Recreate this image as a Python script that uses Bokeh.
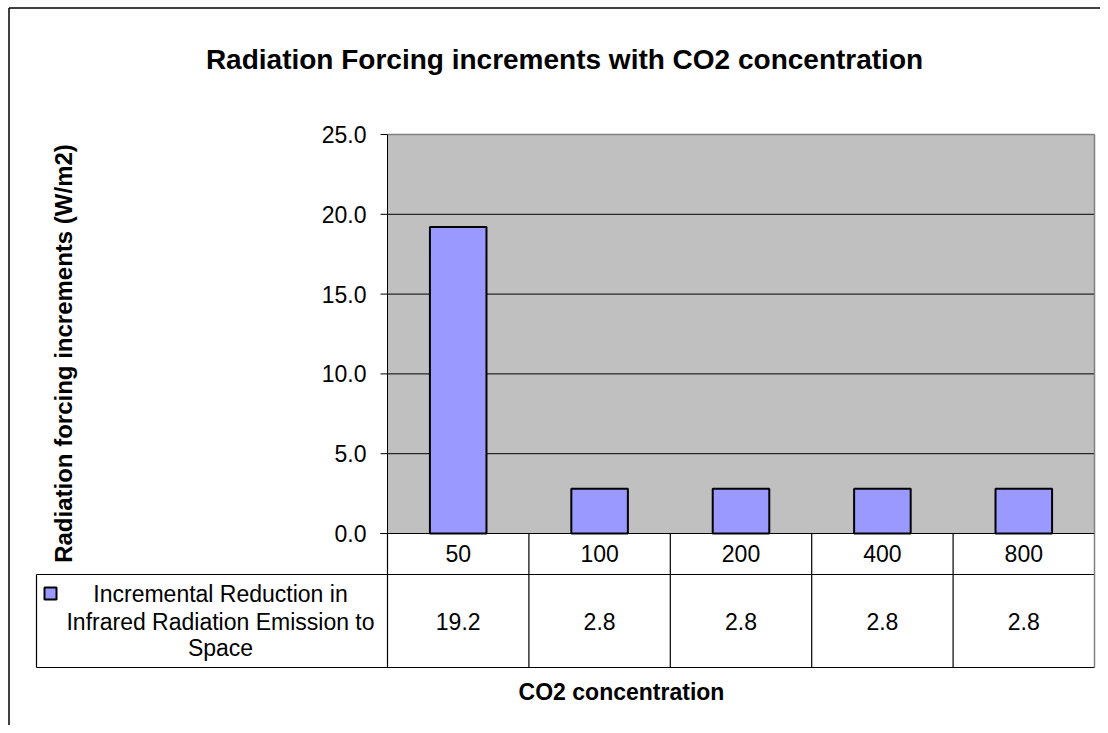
import math
from bokeh.plotting import figure
from bokeh.models import Range1d
from bokeh.core.properties import value
from bokeh.embed import file_html
from bokeh.resources import INLINE

# ---- data ----
title_text = "Radiation Forcing increments with CO2 concentration"
y_title = "Radiation forcing increments (W/m2)"
x_title = "CO2 concentration"
categories = ["50", "100", "200", "400", "800"]
values = [19.2, 2.8, 2.8, 2.8, 2.8]
y_ticks = [0, 5, 10, 15, 20, 25]
series_lines = ["Incremental Reduction in", "Infrared Radiation Emission to", "Space"]

# ---- layout (picture pixels) ----
W, H = 1100, 725
BX, BY = 8.5, 7.5          # outer chart border
PL, PR, PT, PB = 387, 1094, 134, 533
ROW1_B = 574
ROW2_B = 667
LEG_L = 36
n = len(categories)
ymax = y_ticks[-1]
CW = (PR - PL) / n
UY = (PB - PT) / ymax


def X(px):
    return (px - PL) / CW


def Y(py):
    return (PB - py) / UY


FONT = value("Liberation Sans")
BAR = "#9999FF"
GRAY = "#C0C0C0"
DARK = "#808080"

p = figure(width=W, height=H,
           x_range=Range1d(X(0), X(W)), y_range=Range1d(Y(H), Y(0)),
           x_axis_location=None, y_axis_location=None,
           output_backend="svg", toolbar_location=None, min_border=0)
p.grid.visible = False
p.outline_line_color = None
p.background_fill_color = "white"
p.border_fill_color = "white"

# outer chart border (top and left visible)
p.segment(x0=[X(BX), X(BX)], y0=[Y(BY), Y(BY)],
          x1=[X(W + 5), X(BX)], y1=[Y(BY), Y(H + 5)],
          line_color="black", line_width=1.5)

# plot area
p.quad(left=[0], right=[n], bottom=[0], top=[ymax], fill_color=GRAY, line_color=None)

# gridlines
grid = [t for t in y_ticks if 0 < t < ymax]
p.segment(x0=[0] * len(grid), x1=[n] * len(grid), y0=grid, y1=grid,
          line_color="black", line_width=1)
# top & right border of plot area (gray)
p.segment(x0=[0, n], y0=[ymax, 0], x1=[n, n], y1=[ymax, ymax],
          line_color=DARK, line_width=1.5)

# bars
cats_x = [i + 0.5 for i in range(n)]
p.vbar(x=cats_x, width=0.4, bottom=0, top=values,
       fill_color=BAR, line_color="black", line_width=2)

# y axis line, ticks and labels
p.segment(x0=[0], y0=[0], x1=[0], y1=[ymax], line_color="black", line_width=1)
p.segment(x0=[X(380)] * len(y_ticks), x1=[0] * len(y_ticks), y0=y_ticks, y1=y_ticks,
          line_color="black", line_width=1)
p.text(x=[X(366)] * len(y_ticks), y=y_ticks, text=["%.1f" % t for t in y_ticks],
       text_font=FONT, text_font_size="23px", text_align="right",
       text_baseline="middle", text_color="black")

# data table: horizontal lines
p.segment(x0=[X(380), X(LEG_L), X(LEG_L)], x1=[n, n, n],
          y0=[0, Y(ROW1_B), Y(ROW2_B)], y1=[0, Y(ROW1_B), Y(ROW2_B)],
          line_color="black", line_width=1.2)
# vertical lines between categories
bx = list(range(0, n))
p.segment(x0=bx, x1=bx, y0=[0] * len(bx), y1=[Y(ROW2_B)] * len(bx),
          line_color="black", line_width=1.2)
p.segment(x0=[n], x1=[n], y0=[0], y1=[Y(ROW2_B)], line_color=DARK, line_width=1.5)
p.segment(x0=[X(LEG_L)], x1=[X(LEG_L)], y0=[Y(ROW1_B)], y1=[Y(ROW2_B)],
          line_color="black", line_width=1.2)

# category labels
p.text(x=cats_x, y=[Y(553)] * n, text=categories, text_font=FONT,
       text_font_size="23px", text_align="center", text_baseline="middle",
       text_color="black")
# value labels
p.text(x=cats_x, y=[Y(621)] * n, text=["%.1f" % v for v in values], text_font=FONT,
       text_font_size="23px", text_align="center", text_baseline="middle",
       text_color="black")

# legend key and series name
p.quad(left=[X(44)], right=[X(56)], top=[Y(587)], bottom=[Y(599)],
       fill_color=BAR, line_color="black", line_width=2)
p.text(x=[X(220)] * len(series_lines), y=[Y(593), Y(621), Y(647)], text=series_lines,
       text_font=FONT, text_font_size="23px", text_align="center",
       text_baseline="middle", text_color="black")

# titles
p.text(x=[X(564)], y=[Y(59)], text=[title_text], text_font=FONT,
       text_font_size="28px", text_font_style="bold", text_align="center",
       text_baseline="alphabetic", text_color="black")
p.text(x=[X(63)], y=[Y(353)], text=[y_title], angle=math.pi / 2, text_font=FONT,
       text_font_size="24px", text_font_style="bold", text_align="center",
       text_baseline="alphabetic", text_color="black")
p.text(x=[X(621)], y=[Y(691)], text=[x_title], text_font=FONT,
       text_font_size="23px", text_font_style="bold", text_align="center",
       text_baseline="middle", text_color="black")

open("out.html", "w").write(file_html(p, INLINE))
